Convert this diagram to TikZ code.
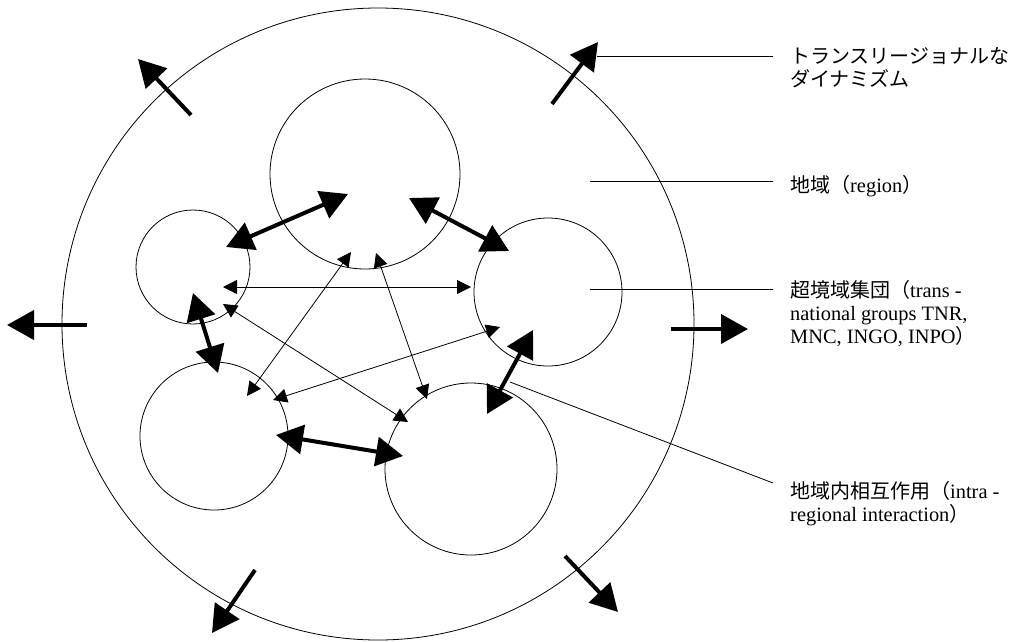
\documentclass[tikz,border=0pt]{standalone}
\usepackage{fontspec}
\setmainfont{Liberation Serif}[Scale=1.02]
\newfontfamily\jp{Noto Sans CJK JP}
\usetikzlibrary{arrows.meta}
\newcommand{\stacklines}[1]{\vtop{\baselineskip=23pt\lineskiplimit=-1000pt\lineskip=0pt #1}}
\begin{document}
\begin{tikzpicture}[x=1pt,y=-1pt,
 ring/.style={circle,draw,line width=0.8pt,inner sep=0pt,minimum size=#1},
 outarrow/.style={line width=4pt,-{Triangle[length=27pt,width=29pt]}},
 mutual/.style={line width=4pt,{Triangle[length=27pt,width=29pt]}-{Triangle[length=27pt,width=29pt]}},
 flow/.style={line width=0.8pt,{Triangle[length=14pt,width=14pt]}-{Triangle[length=14pt,width=14pt]}},
 leader/.style={line width=0.8pt},
 lab/.style={anchor=base west,inner sep=0pt,font=\fontsize{20}{23}\selectfont}]
\useasboundingbox (0,0) rectangle (1029,641);
% circles
\node[ring=632pt] (region) at (378,324) {};
\node[ring=190pt] (gT) at (365,174) {};
\node[ring=114pt] (gL) at (193,267) {};
\node[ring=148pt] (gR) at (548,292) {};
\node[ring=148pt] (gBL) at (214,436) {};
\node[ring=172pt] (gBR) at (471,469) {};
% outward arrows
\coordinate (o1a) at (191,115); \coordinate (o1b) at (138,59);
\coordinate (o2a) at (552,104); \coordinate (o2b) at (598,42);
\coordinate (o3a) at (87,325);  \coordinate (o3b) at (7,325);
\coordinate (o4a) at (671,329); \coordinate (o4b) at (748,329);
\coordinate (o5a) at (255,570); \coordinate (o5b) at (212,633);
\coordinate (o6a) at (565,556); \coordinate (o6b) at (618,612);
\draw[outarrow] (o1a) -- (o1b);
\draw[outarrow] (o2a) -- (o2b);
\draw[outarrow] (o3a) -- (o3b);
\draw[outarrow] (o4a) -- (o4b);
\draw[outarrow] (o5a) -- (o5b);
\draw[outarrow] (o6a) -- (o6b);
% mutual thick arrows
\coordinate (ma1) at (226,247); \coordinate (ma2) at (348,194);
\coordinate (mb1) at (409,198); \coordinate (mb2) at (509,251);
\coordinate (mc1) at (193,293); \coordinate (mc2) at (218,373);
\coordinate (md1) at (276,435); \coordinate (md2) at (403,456);
\coordinate (me1) at (533,330); \coordinate (me2) at (487,414);
\draw[mutual] (ma1) -- (ma2);
\draw[mutual] (mb1) -- (mb2);
\draw[mutual] (mc1) -- (mc2);
\draw[mutual] (md1) -- (md2);
\draw[mutual] (me1) -- (me2);
% thin flows
\coordinate (fi1) at (223,287); \coordinate (fi2) at (471,287);
\coordinate (fii1) at (247,396); \coordinate (fii2) at (351,252);
\coordinate (fiii1) at (376,253); \coordinate (fiii2) at (427,399);
\coordinate (fiv1) at (223,304); \coordinate (fiv2) at (408,422);
\coordinate (fv1) at (500,327); \coordinate (fv2) at (273,400);
\draw[flow] (fi1) -- (fi2);
\draw[flow] (fii1) -- (fii2);
\draw[flow] (fiii1) -- (fiii2);
\draw[flow] (fiv1) -- (fiv2);
\draw[flow] (fv1) -- (fv2);
% labels
\node[lab] (t1) at (790,63) {\stacklines{\hbox{\jp トランスリージョナルな}\hbox{\jp ダイナミズム}}};
\node[lab] (t2) at (790,192) {{\jp 地域（}region{\jp ）}};
\node[lab] (t3) at (790,297) {\stacklines{\hbox{{\jp 超境域集団（}trans -}\hbox{national groups TNR,}\hbox{MNC, INGO, INPO{\jp ）}}}};
\node[lab] (t4) at (790,498) {\stacklines{\hbox{{\jp 地域内相互作用（}intra -}\hbox{regional interaction{\jp ）}}}};
% leader lines
\coordinate (l1) at (597,56); \coordinate (l1e) at (773,56);
\coordinate (l2) at (590,181); \coordinate (l2e) at (773,181);
\coordinate (l3) at (590,289); \coordinate (l3e) at (773,289);
\coordinate (l4) at (510,382); \coordinate (l4e) at (773,483);
\draw[leader] (l1) -- (l1e);
\draw[leader] (l2) -- (l2e);
\draw[leader] (l3) -- (l3e);
\draw[leader] (l4) -- (l4e);
\end{tikzpicture}
\end{document}
